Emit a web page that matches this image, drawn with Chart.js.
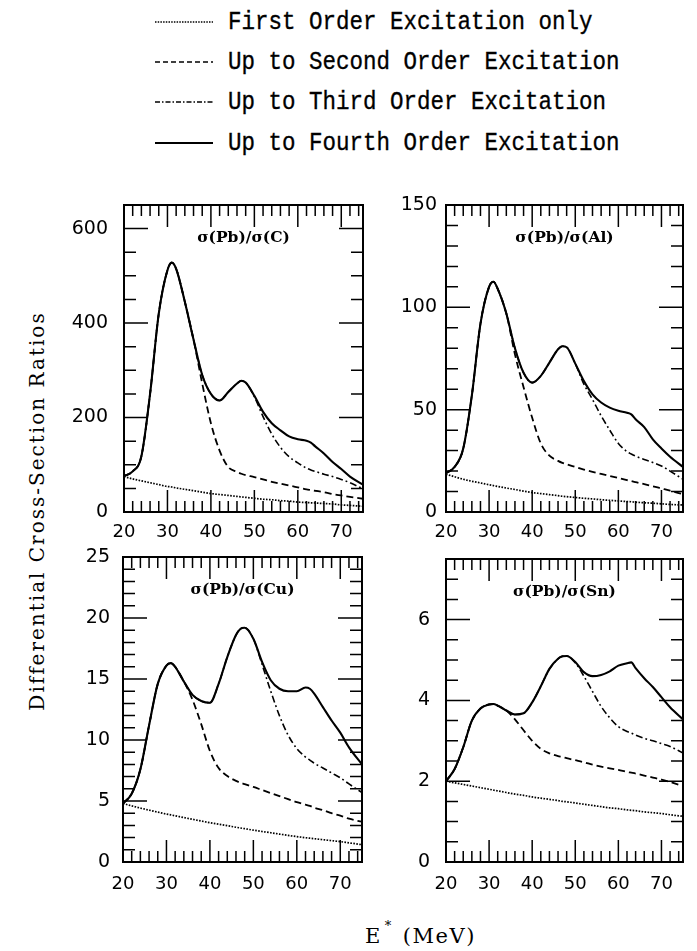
<!DOCTYPE html>
<html>
<head>
<meta charset="utf-8">
<script src="https://cdn.jsdelivr.net/npm/chart.js@4.4.1/dist/chart.umd.min.js"></script>
<style>
html,body{margin:0;padding:0;background:#fff;}
body{width:697px;height:951px;overflow:hidden;position:relative;}
.panel{position:absolute;}
.panel canvas{display:block;}
.legrow{position:absolute;left:0;height:30px;white-space:nowrap;}
.legrow svg{position:absolute;left:155px;top:0;}
.legrow span{position:absolute;left:228px;top:0;line-height:30px;font-family:"Liberation Mono",monospace;font-weight:normal;-webkit-text-stroke:0.3px #000;font-size:22.5px;color:#000;transform:scaleY(1.15);transform-origin:0 50%;}
#ytitle{position:absolute;left:-183px;top:498px;width:440px;height:26px;line-height:26px;text-align:center;transform:rotate(-90deg);transform-origin:50% 50%;font-family:"DejaVu Serif",serif;font-size:20px;letter-spacing:2px;color:#000;white-space:nowrap;}
#xtitle{position:absolute;left:365px;top:923px;font-family:"DejaVu Serif",serif;font-size:21px;color:#000;white-space:nowrap;letter-spacing:1.5px;}
#xtitle sup{font-size:13px;position:relative;top:-5px;margin-left:3px;margin-right:10px;}
</style>
</head>
<body>
<div id="ytitle">Differential Cross-Section Ratios</div>
<div id="xtitle">E<sup>*</sup>(MeV)</div>
<script>
// ---------------- data ----------------
const energies = [20,22,24,26,28,30,31,32,34,36,38,40,42,44,46,47,48,50,52,54,56,58,60,62,63,64,66,68,70,72,75];

const seriesLabels = [
  "First Order Excitation only",
  "Up to Second Order Excitation",
  "Up to Third Order Excitation",
  "Up to Fourth Order Excitation"
];

const panelTitles = ["σ(Pb)/σ(C)", "σ(Pb)/σ(Al)", "σ(Pb)/σ(Cu)", "σ(Pb)/σ(Sn)"];

const xTickValues = [20,30,40,50,60,70];
const yTicksC  = [0,200,400,600];
const yTicksAl = [0,50,100,150];
const yTicksCu = [0,5,10,15,20,25];
const yTicksSn = [0,2,4,6];

// sigma(Pb)/sigma(C)
const cFirst  = [75,70,66,62,58,54,53,51,48,45,42,39,37,35,33,32,31,29,27,26,24,23,21,20,19.5,19,18,17,15,14,12];
const cSecond = [76,86,118,250,420,512,528,515,445,365,272,188,130,95,85,81,78,74,69,64,60,56,52,48,46.5,45,42,38,35,32,28];
const cThird  = [76,86,118,250,420,512,528,515,445,365,290,250,236,254,272,278,274,244,202,165,137,117,104,93,89,86,80,75,69,62,49];
const cFourth = [76,86,118,250,420,512,528,515,445,365,290,250,236,254,272,278,274,246,212,188,173,160,154,151,147,139,124,106,91,75,58];

// sigma(Pb)/sigma(Al)
const alFirst  = [18.5,17.2,16,15,14.2,13.3,12.9,12.5,11.7,11,10.2,9.5,9,8.5,8,7.7,7.5,7.1,6.7,6.4,6,5.7,5.4,5.1,5,4.8,4.5,4.3,4,3.7,3.4];
const alSecond = [19,22,31,57,92,110,112.5,109,97,77,61,46,33.5,27.5,25,24,23.3,22,20.7,19.6,18.6,17.6,16.6,15.6,15.1,14.6,13.6,12.6,11.5,10.4,8.7];
const alThird  = [19,22,31,57,92,110,112.5,109,97,80,68,63.2,66.5,73,79.5,81,80.5,72.5,62.5,55,47,40,33.5,29.5,28.3,27.3,25.7,24.2,22.5,20,16];
const alFourth = [19,22,31,57,92,110,112.5,109,97,80,68,63.2,66.5,73,79.5,81,80.5,72.5,64,57.5,53.5,51,49.5,48.5,47.7,45.3,41.5,35.5,31,27,22];

// sigma(Pb)/sigma(Cu)
const cuFirst  = [4.8,4.6,4.42,4.25,4.09,3.93,3.86,3.79,3.64,3.5,3.36,3.22,3.1,2.98,2.85,2.79,2.73,2.61,2.5,2.4,2.29,2.18,2.08,1.99,1.95,1.91,1.83,1.75,1.67,1.57,1.42];
const cuSecond = [4.8,5.6,7.6,11.2,14.6,16.1,16.3,16,14.8,13.3,11.3,9.1,7.7,7.05,6.65,6.5,6.38,6.15,5.9,5.65,5.4,5.15,4.9,4.7,4.6,4.45,4.25,4.0,3.8,3.55,3.3];
const cuThird  = [4.8,5.6,7.6,11.2,14.6,16.1,16.3,16,14.8,13.7,13.2,13.05,14.6,16.8,18.6,19.1,19.2,18.3,16.2,14.0,12.0,10.4,9.3,8.6,8.35,8.1,7.7,7.3,6.9,6.4,5.7];
const cuFourth = [4.8,5.6,7.6,11.2,14.6,16.1,16.3,16,14.8,13.7,13.2,13.05,14.6,16.8,18.6,19.1,19.2,18.3,16.4,14.9,14.2,14,14,14.3,14.2,13.8,12.7,11.6,10.6,9.4,8];

// sigma(Pb)/sigma(Sn)
const snFirst  = [2.0,1.96,1.92,1.88,1.84,1.8,1.78,1.76,1.72,1.68,1.65,1.61,1.58,1.55,1.52,1.5,1.49,1.46,1.43,1.4,1.37,1.34,1.32,1.29,1.28,1.27,1.24,1.22,1.2,1.17,1.13];
const snSecond = [2.0,2.3,2.84,3.5,3.8,3.9,3.91,3.87,3.75,3.53,3.26,3.0,2.8,2.69,2.62,2.6,2.57,2.52,2.47,2.41,2.36,2.32,2.28,2.23,2.21,2.19,2.14,2.09,2.04,1.98,1.88];
const snThird  = [2.0,2.3,2.84,3.5,3.8,3.9,3.91,3.87,3.75,3.65,3.68,3.95,4.35,4.78,5.03,5.09,5.1,4.93,4.6,4.22,3.85,3.57,3.35,3.23,3.19,3.14,3.06,3.0,2.93,2.86,2.7];
const snFourth = [2.0,2.3,2.84,3.5,3.8,3.9,3.91,3.87,3.75,3.65,3.68,3.95,4.35,4.78,5.03,5.09,5.1,4.95,4.7,4.6,4.63,4.72,4.86,4.92,4.94,4.8,4.55,4.33,4.08,3.83,3.53];

// ---------------- styles / layout ----------------
const lineStyles = [
  {dash:[1.6,1.4], width:1.7, svgDash:"1.5 1.2", svgW:1.7},
  {dash:[7,4], width:1.8, svgDash:"5 3", svgW:1.6},
  {dash:[7,3,1.8,3], width:1.6, svgDash:"5 2 1.5 2", svgW:1.6},
  {dash:[], width:2.1, svgDash:"", svgW:2.2}
];
const legendRowCenters = [22, 62, 102, 143];

const panels = [
  {L:124, T:205, R:363, B:512, ymax:650, yticks:yTicksC,  series:[cFirst,cSecond,cThird,cFourth],     yMinor:50,  yMajor:200, yPad:16, xPad:10, title:panelTitles[0]},
  {L:446, T:205, R:683, B:512, ymax:150, yticks:yTicksAl, series:[alFirst,alSecond,alThird,alFourth], yMinor:10,  yMajor:50,  yPad:9,  xPad:10, title:panelTitles[1]},
  {L:123, T:557, R:362, B:862, ymax:25,  yticks:yTicksCu, series:[cuFirst,cuSecond,cuThird,cuFourth], yMinor:1,   yMajor:5,   yPad:13, xPad:12, title:panelTitles[2]},
  {L:446, T:559, R:683, B:862, ymax:7.5, yticks:yTicksSn, series:[snFirst,snSecond,snThird,snFourth], yMinor:0.5, yMajor:2,   yPad:16, xPad:12, title:panelTitles[3]}
];

// ---------------- plugins ----------------
const frameTicks = {
  id:'frameTicks',
  afterDatasetsDraw(chart, args, o) {
    const ctx = chart.ctx, a = chart.chartArea, xs = chart.scales.x, ys = chart.scales.y;
    const isMaj = (v,m) => Math.abs(v/m - Math.round(v/m)) < 1e-6;
    ctx.save();
    ctx.strokeStyle = '#000';
    ctx.lineWidth = 1.5;
    ctx.beginPath();
    let n = Math.round((xs.max - xs.min)/o.xMinor);
    for (let k=1;k<n;k++){
      const v = xs.min + k*o.xMinor;
      const px = xs.getPixelForValue(v);
      const len = isMaj(v,o.xMajor) ? 22 : 11;
      ctx.moveTo(px,a.bottom); ctx.lineTo(px,a.bottom-len);
      ctx.moveTo(px,a.top); ctx.lineTo(px,a.top+len);
    }
    n = Math.round((ys.max - ys.min)/o.yMinor);
    for (let k=1;k<n;k++){
      const v = ys.min + k*o.yMinor;
      const py = ys.getPixelForValue(v);
      const len = isMaj(v,o.yMajor) ? 24 : 12;
      ctx.moveTo(a.left,py); ctx.lineTo(a.left+len,py);
      ctx.moveTo(a.right,py); ctx.lineTo(a.right-len,py);
    }
    ctx.stroke();
    ctx.lineWidth = 2;
    ctx.strokeRect(a.left, a.top, a.right-a.left, a.bottom-a.top);
    ctx.restore();
  }
};
const panelTitle = {
  id:'panelTitle',
  afterDraw(chart, args, o) {
    const ctx = chart.ctx, a = chart.chartArea;
    ctx.save();
    ctx.font = o.font;
    ctx.fillStyle = '#000';
    ctx.textAlign = 'center';
    ctx.textBaseline = 'middle';
    ctx.fillText(o.text, (a.left+a.right)/2, a.top + o.offset);
    ctx.restore();
  }
};

// ---------------- build ----------------
const padL = 80, padT = 34, padR = 15, padB = 40;
panels.forEach(p => {
  const W = p.R - p.L, H = p.B - p.T;
  const div = document.createElement('div');
  div.className = 'panel';
  div.style.left = (p.L - padL) + 'px';
  div.style.top = (p.T - padT) + 'px';
  const cv = document.createElement('canvas');
  cv.width = W + padL + padR;
  cv.height = H + padT + padB;
  cv.style.width = cv.width + 'px';
  cv.style.height = cv.height + 'px';
  div.appendChild(cv);
  document.body.appendChild(div);
  new Chart(cv, {
    type:'line',
    data:{
      datasets: p.series.map((s,i) => ({
        label: seriesLabels[i],
        data: energies.map((e,k) => ({x:e, y:s[k]})),
        borderColor:'#000',
        borderWidth: lineStyles[i].width,
        borderDash: lineStyles[i].dash,
        pointRadius:0,
        fill:false,
        cubicInterpolationMode:'monotone',
        order: 3-i
      }))
    },
    options:{
      responsive:false,
      animation:false,
      events:[],
      layout:{padding:{left:0, top:padT, right:padR, bottom:0}},
      plugins:{
        legend:{display:false},
        tooltip:{enabled:false},
        frameTicks:{xMinor:2, xMajor:10, yMinor:p.yMinor, yMajor:p.yMajor},
        panelTitle:{text:p.title, font:'bold 15.5px "DejaVu Serif"', offset:33}
      },
      scales:{
        x:{
          type:'linear', min:20, max:75,
          afterBuildTicks: s => { s.ticks = xTickValues.map(v => ({value:v})); },
          afterFit: s => { s.height = padB; },
          grid:{display:false, drawTicks:false},
          border:{display:false},
          ticks:{padding:p.xPad, color:'#000', autoSkip:false, maxRotation:0, font:{family:'DejaVu Sans', size:18}}
        },
        y:{
          type:'linear', min:0, max:p.ymax,
          afterBuildTicks: s => { s.ticks = p.yticks.map(v => ({value:v})); },
          afterFit: s => { s.width = padL; },
          grid:{display:false, drawTicks:false},
          border:{display:false},
          ticks:{padding:p.yPad, color:'#000', autoSkip:false, font:{family:'DejaVu Sans', size:19}}
        }
      }
    },
    plugins:[frameTicks, panelTitle]
  });
});

// legend
seriesLabels.forEach((t,i) => {
  const row = document.createElement('div');
  row.className = 'legrow';
  row.style.top = (legendRowCenters[i] - 15) + 'px';
  row.style.width = '697px';
  const st = lineStyles[i];
  row.innerHTML = '<svg width="58" height="30"><line x1="0" y1="15" x2="58" y2="15" stroke="#000" stroke-width="' + st.svgW + '"' +
    (st.svgDash ? ' stroke-dasharray="' + st.svgDash + '"' : '') + '/></svg>';
  const sp = document.createElement('span');
  sp.textContent = t;
  row.appendChild(sp);
  document.body.appendChild(row);
});
</script>
</body>
</html>
